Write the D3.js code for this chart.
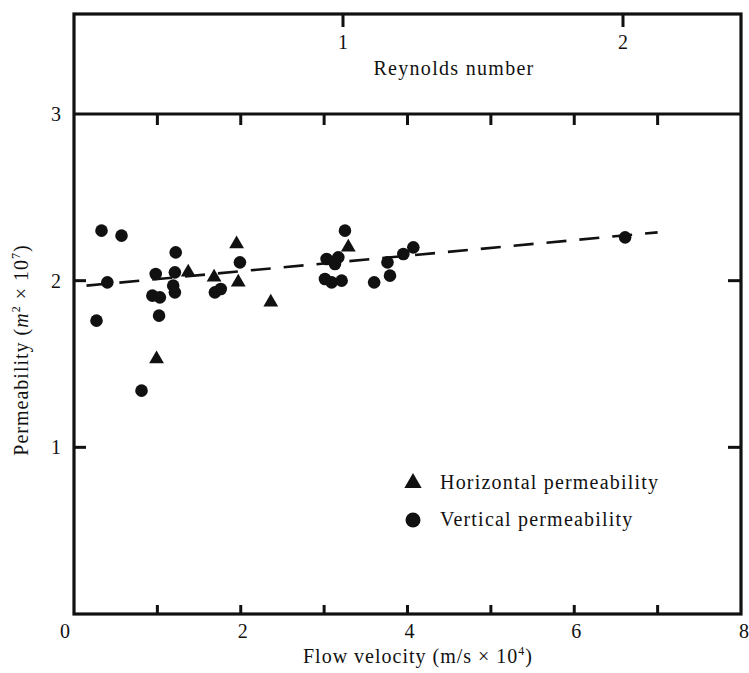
<!DOCTYPE html>
<html>
<head>
<meta charset="utf-8">
<script src="https://cdn.jsdelivr.net/npm/d3@7/dist/d3.min.js"></script>
<style>
  html, body { margin: 0; padding: 0; background: #fff; }
  svg { display: block; }
  text { font-family: "Liberation Serif", "Times New Roman", serif; fill: #111; }
</style>
</head>
<body>
<svg id="chart" width="749" height="673"></svg>
<script>
// ---- Data ----
const horizontalVelocity = [1.95, 1.37, 1.68, 1.97, 2.36, 0.99, 3.29];
const horizontalPerm     = [2.22, 2.05, 2.02, 1.99, 1.87, 1.53, 2.20];

const verticalVelocity = [0.27, 0.33, 0.57, 0.40, 0.81, 0.98, 0.94, 1.03, 1.02, 1.22, 1.21, 1.19, 1.21,
                          1.99, 1.69, 1.76, 3.25, 3.03, 3.17, 3.13, 3.01, 3.09, 3.21, 3.60, 3.76, 3.79,
                          3.95, 4.07, 6.61];
const verticalPerm     = [1.76, 2.30, 2.27, 1.99, 1.34, 2.04, 1.91, 1.90, 1.79, 2.17, 2.05, 1.97, 1.93,
                          2.11, 1.93, 1.95, 2.30, 2.13, 2.14, 2.10, 2.01, 1.99, 2.00, 1.99, 2.11, 2.03,
                          2.16, 2.20, 2.26];

const trendVelocity = [0.15, 7.0];
const trendPerm     = [1.97, 2.29];

const xTickMarks  = [1, 2, 3, 4, 5, 6, 7];
const xTickLabels = [0, 2, 4, 6, 8];
const yTickMarks  = [1, 2];
const yTickLabels = [1, 2, 3];
const reynoldsTicks = [1, 2];

const legendLabels = ["Horizontal permeability", "Vertical permeability"];

// ---- Layout ----
(function () {
const svg = d3.select("#chart");
const padL = 74, padR = 741, padT = 14, padB = 614;

const x = d3.scaleLinear().domain([0, 8]).range([padL, padR]);
const y = d3.scaleLinear().domain([0, 3]).range([padB, 114]);
const re = d3.scaleLinear().domain([1, 2]).range([343, 623]);

const ink = "#111";

// Frame
svg.append("rect")
  .attr("x", padL).attr("y", padT)
  .attr("width", padR - padL).attr("height", padB - padT)
  .attr("fill", "none").attr("stroke", ink).attr("stroke-width", 3.2);
svg.append("line")
  .attr("x1", padL).attr("x2", padR)
  .attr("y1", y(3)).attr("y2", y(3))
  .attr("stroke", ink).attr("stroke-width", 3);

// Bottom ticks (pointing up)
svg.selectAll(".xb").data(xTickMarks).join("line")
  .attr("x1", d => x(d)).attr("x2", d => x(d))
  .attr("y1", padB).attr("y2", padB - 9)
  .attr("stroke", ink).attr("stroke-width", 3);
// Ticks under the divider (pointing down)
svg.selectAll(".xt").data(xTickMarks).join("line")
  .attr("x1", d => x(d)).attr("x2", d => x(d))
  .attr("y1", y(3)).attr("y2", y(3) + 11)
  .attr("stroke", ink).attr("stroke-width", 3);
// Left / right y ticks (inward)
svg.selectAll(".yl").data(yTickMarks).join("line")
  .attr("x1", padL).attr("x2", padL + 12)
  .attr("y1", d => y(d)).attr("y2", d => y(d))
  .attr("stroke", ink).attr("stroke-width", 3);
svg.selectAll(".yr").data(yTickMarks).join("line")
  .attr("x1", padR).attr("x2", padR - 13)
  .attr("y1", d => y(d)).attr("y2", d => y(d))
  .attr("stroke", ink).attr("stroke-width", 3);
// Reynolds ticks
svg.selectAll(".re").data(reynoldsTicks).join("line")
  .attr("x1", d => re(d)).attr("x2", d => re(d))
  .attr("y1", padT).attr("y2", padT + 13)
  .attr("stroke", ink).attr("stroke-width", 3);

// Tick labels
svg.selectAll(".xl").data(xTickLabels).join("text")
  .attr("x", d => x(d) + (d === 0 ? -9 : (d === 8 ? 3 : 2)))
  .attr("y", 638)
  .attr("text-anchor", "middle")
  .attr("font-size", 20)
  .text(d => d);
svg.selectAll(".ylab").data(yTickLabels).join("text")
  .attr("x", padL - 13)
  .attr("y", d => y(d) + 7)
  .attr("text-anchor", "end")
  .attr("font-size", 20)
  .text(d => d);
svg.selectAll(".rel").data(reynoldsTicks).join("text")
  .attr("x", d => re(d))
  .attr("y", 49)
  .attr("text-anchor", "middle")
  .attr("font-size", 20)
  .text(d => d);

// Titles
svg.append("text")
  .attr("x", 454).attr("y", 75)
  .attr("text-anchor", "middle")
  .attr("font-size", 20)
  .attr("letter-spacing", 1.3)
  .text("Reynolds number");

const xt = svg.append("text")
  .attr("x", 418).attr("y", 663)
  .attr("text-anchor", "middle")
  .attr("font-size", 20)
  .attr("letter-spacing", 1);
xt.append("tspan").text("Flow velocity (m/s \u00d7 10");
xt.append("tspan").attr("font-size", 12).attr("dy", -8).text("4");
xt.append("tspan").attr("dy", 8).text(")");

const yt = svg.append("text")
  .attr("transform", "translate(28,350) rotate(-90)")
  .attr("text-anchor", "middle")
  .attr("font-size", 20)
  .attr("letter-spacing", 1);
yt.append("tspan").text("Permeability (");
yt.append("tspan").attr("font-style", "italic").text("m");
yt.append("tspan").attr("font-size", 12).attr("dy", -8).text("2");
yt.append("tspan").attr("dy", 8).text(" \u00d7 10");
yt.append("tspan").attr("font-size", 12).attr("dy", -8).text("7");
yt.append("tspan").attr("dy", 8).text(")");

// Trend line
const line = d3.line().x(d => x(d[0])).y(d => y(d[1]));
svg.append("path")
  .datum(d3.zip(trendVelocity, trendPerm))
  .attr("d", line)
  .attr("fill", "none")
  .attr("stroke", ink)
  .attr("stroke-width", 2.6)
  .attr("stroke-dasharray", "20,13");

// Points
const tri = d3.symbol().type(d3.symbolTriangle).size(95);
svg.selectAll(".vp").data(d3.zip(verticalVelocity, verticalPerm)).join("circle")
  .attr("cx", d => x(d[0])).attr("cy", d => y(d[1]))
  .attr("r", 6.3).attr("fill", ink);
svg.selectAll(".hp").data(d3.zip(horizontalVelocity, horizontalPerm)).join("path")
  .attr("d", tri)
  .attr("transform", d => `translate(${x(d[0])},${y(d[1])})`)
  .attr("fill", ink);

// Legend
const legend = svg.append("g").attr("transform", "translate(413,0)");
legend.append("path")
  .attr("d", d3.symbol().type(d3.symbolTriangle).size(130))
  .attr("transform", "translate(0,483)")
  .attr("fill", ink);
legend.append("circle").attr("cx", 0).attr("cy", 520).attr("r", 7.5).attr("fill", ink);
legend.selectAll("text").data(legendLabels).join("text")
  .attr("x", 27)
  .attr("y", (d, i) => 489 + i * 37)
  .attr("font-size", 20)
  .attr("letter-spacing", 1.2)
  .text(d => d);
})();
</script>
</body>
</html>
